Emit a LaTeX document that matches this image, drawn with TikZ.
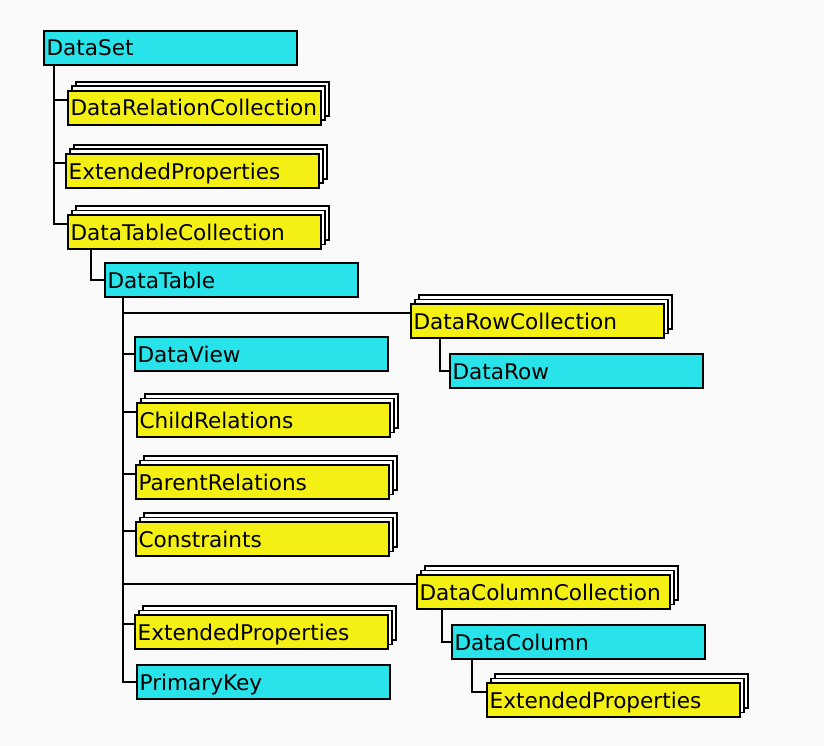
\documentclass[tikz,border=0pt]{standalone}
\usepackage{fontspec}
\setmainfont{DejaVu Sans}
\definecolor{cy}{RGB}{40,228,234}
\definecolor{yl}{RGB}{245,240,20}
\definecolor{bg}{RGB}{250,250,250}
\newcommand\stk[4]{%
  \node[backbox] (#1b2) at ({#2+8},{#3-9}) {};
  \node[backbox] (#1b1) at ({#2+4},{#3-4.5}) {};
  \node[ybox] (#1) at (#2,#3) {#4};
  \coordinate (#1in) at ([yshift=8pt]#1.west);}
\begin{document}
\begin{tikzpicture}[x=1pt,y=-1pt,
  box/.style={draw=black, line width=2.2pt, anchor=north west, minimum height=34pt,
    text width=248pt, inner xsep=2.5pt, inner ysep=0pt, align=left,
    font=\fontsize{21.6}{24}\selectfont, text height=15.8pt, text depth=0pt},
  cbox/.style={box, fill=cy},
  ybox/.style={box, fill=yl},
  backbox/.style={draw=black, line width=1.8pt, fill=white, anchor=north west,
    minimum width=253pt, minimum height=34pt, inner sep=0pt},
  link/.style={draw=black, line width=1.6pt}]
\fill[bg] (0,0) rectangle (824,746);
\useasboundingbox (0,0) rectangle (824,746);

\node[cbox] (dataset) at (43,30) {DataSet};
\stk{drc}{67}{90}{DataRelationCollection}
\stk{epa}{65}{153}{ExtendedProperties}
\stk{dtc}{67}{214}{DataTableCollection}
\node[cbox] (dt) at (104,262) {DataTable};
\stk{drowc}{410}{303}{DataRowCollection}
\node[cbox] (drow) at (449,353) {DataRow};
\node[cbox] (dv) at (134,336) {DataView};
\stk{cr}{136}{402}{ChildRelations}
\stk{pr}{135}{464}{ParentRelations}
\stk{cons}{135}{521}{Constraints}
\stk{dcc}{416}{574}{DataColumnCollection}
\stk{epb}{134}{614}{ExtendedProperties}
\node[cbox] (pk) at (136,664) {PrimaryKey};
\node[cbox] (dc) at (451,624) {DataColumn};
\stk{epc}{486}{682}{ExtendedProperties}

% DataSet tree
\coordinate (dsx) at ([xshift=11pt]dataset.south west);
\draw[link] (dsx) |- (dtcin);
\draw[link] (dsx |- drcin) -- (drcin);
\draw[link] (dsx |- epain) -- (epain);
% DataTableCollection -> DataTable
\draw[link] ([xshift=24pt]dtc.south west) |- (dt.west);
% DataTable tree
\coordinate (dtx) at ([xshift=19pt]dt.south west);
\draw[link] (dtx) |- (pk.west);
\draw[link] (dtx |- drowcin) -- (drowcin);
\draw[link] (dtx |- dv.west) -- (dv.west);
\draw[link] (dtx |- crin) -- (crin);
\draw[link] (dtx |- prin) -- (prin);
\draw[link] (dtx |- consin) -- (consin);
\draw[link] (dtx |- dccin) -- (dccin);
\draw[link] (dtx |- epbin) -- (epbin);
% DataRowCollection -> DataRow
\draw[link] ([xshift=30pt]drowc.south west) |- (drow.west);
% DataColumnCollection -> DataColumn
\draw[link] ([xshift=26pt]dcc.south west) |- (dc.west);
% DataColumn -> ExtendedProperties
\draw[link] ([xshift=21pt]dc.south west) |- (epcin);
\end{tikzpicture}
\end{document}
